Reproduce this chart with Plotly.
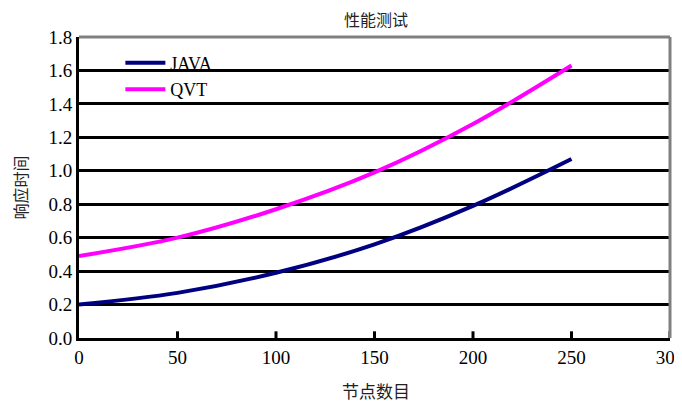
import plotly.graph_objects as go

nodes = [0, 50, 100, 150, 200, 250]
java = [0.20, 0.27, 0.39, 0.56, 0.79, 1.07]
qvt = [0.49, 0.60, 0.77, 0.99, 1.28, 1.63]

x_ticks = [0, 50, 100, 150, 200, 250, 300]
y_ticks = [0, 0.2, 0.4, 0.6, 0.8, 1.0, 1.2, 1.4, 1.6, 1.8]

title_text = "性能测试"
x_title = "节点数目"
y_title = "响应时间"

serif = "Liberation Serif, Times New Roman, serif"
cjk = "Noto Sans CJK SC"

fig = go.Figure()
fig.add_trace(go.Scatter(x=nodes, y=java, name="JAVA", mode="lines",
                         line=dict(color="#000080", width=4, shape="spline")))
fig.add_trace(go.Scatter(x=nodes, y=qvt, name="QVT", mode="lines",
                         line=dict(color="#FF00FF", width=4, shape="spline")))

fig.update_layout(
    width=682, height=404,
    margin=dict(l=71, r=20, t=29, b=74, autoexpand=False),
    paper_bgcolor="white", plot_bgcolor="white",
    legend=dict(x=0.07, y=0.975, xanchor="left", yanchor="top",
                bgcolor="rgba(0,0,0,0)", font=dict(family=serif, size=18, color="black"),
                tracegroupgap=0, itemwidth=40),
    showlegend=True,
)
fig.update_layout(xaxis=dict(
    range=[0, 300], tickmode="array", tickvals=x_ticks,
    ticks="", showline=True, linecolor="black", linewidth=3,
    showgrid=False, zeroline=False, automargin=False,
    tickfont=dict(family=serif, size=19, color="black"),
))
fig.update_layout(yaxis=dict(
    range=[0, 1.8], tickmode="array", tickvals=y_ticks,
    tickformat=".1f",
    ticks="", showline=True, linecolor="black", linewidth=3,
    showgrid=True, gridcolor="black", gridwidth=2.5, zeroline=False, automargin=False,
    tickfont=dict(family=serif, size=19, color="black"),
))
# inside tick marks on the x axis
for t in x_ticks[1:]:
    fig.add_shape(type="line", xref="x", yref="y", x0=t, x1=t, y0=0, y1=0.04,
                  line=dict(color="black", width=3), layer="above")
fig.add_annotation(text=title_text, xref="paper", yref="paper", x=0.502, y=1,
                   yshift=18, xanchor="center", yanchor="middle", showarrow=False,
                   font=dict(family=cjk, size=16, color="#222"))
fig.add_annotation(text=x_title, xref="paper", yref="paper", x=0.502, y=0,
                   yshift=-52, xanchor="center", yanchor="middle", showarrow=False,
                   font=dict(family=cjk, size=17, color="#222"))
fig.add_annotation(text=y_title, xref="paper", yref="paper", x=0, y=0.5,
                   xshift=-60, xanchor="center", yanchor="middle", showarrow=False,
                   textangle=-90, font=dict(family=cjk, size=16, color="#222"))
fig.add_shape(type="line", xref="paper", yref="paper", x0=0, x1=1, y0=1, y1=1,
              line=dict(color="#808080", width=3), layer="above")
fig.add_shape(type="line", xref="paper", yref="paper", x0=1, x1=1, y0=0, y1=1,
              line=dict(color="#808080", width=3), layer="above")

fig.write_html("out.html")
